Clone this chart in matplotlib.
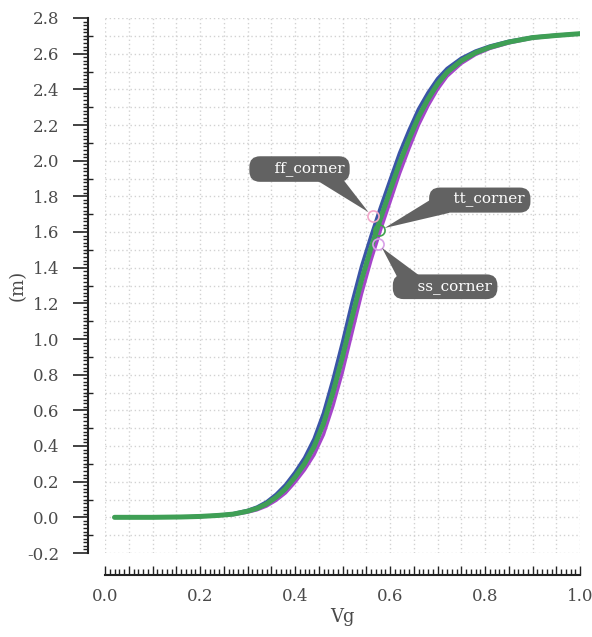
import numpy as np
import matplotlib
matplotlib.use("Agg")
import matplotlib.pyplot as plt
from matplotlib.ticker import MultipleLocator, FuncFormatter
from matplotlib.lines import TICKLEFT
from matplotlib.transforms import blended_transform_factory, ScaledTranslation

# ---------------- data ----------------
vg = [0.02, 0.10, 0.16, 0.20, 0.24, 0.27, 0.30, 0.32, 0.34, 0.36, 0.38, 0.40,
      0.42, 0.44, 0.46, 0.48, 0.50, 0.52, 0.54, 0.56, 0.58, 0.60, 0.62, 0.64,
      0.66, 0.68, 0.70, 0.72, 0.75, 0.78, 0.81, 0.85, 0.90, 0.95, 1.00]
ff_corner = [0.000, 0.000, 0.002, 0.006, 0.012, 0.021, 0.039, 0.058, 0.087, 0.129,
             0.183, 0.253, 0.334, 0.440, 0.586, 0.775, 0.984, 1.206, 1.408, 1.579,
             1.739, 1.892, 2.043, 2.172, 2.290, 2.382, 2.460, 2.517, 2.575, 2.615,
             2.643, 2.670, 2.693, 2.704, 2.713]
tt_corner = [0.000, 0.000, 0.002, 0.005, 0.011, 0.018, 0.034, 0.050, 0.075, 0.112,
             0.160, 0.225, 0.300, 0.395, 0.525, 0.700, 0.900, 1.120, 1.330, 1.510,
             1.675, 1.830, 1.985, 2.120, 2.245, 2.345, 2.430, 2.495, 2.560, 2.605,
             2.636, 2.665, 2.690, 2.702, 2.712]
ss_corner = [0.000, 0.000, 0.002, 0.004, 0.010, 0.015, 0.029, 0.042, 0.063, 0.095,
             0.137, 0.197, 0.266, 0.350, 0.464, 0.625, 0.816, 1.034, 1.252, 1.441,
             1.611, 1.768, 1.927, 2.068, 2.200, 2.308, 2.400, 2.473, 2.545, 2.595,
             2.629, 2.660, 2.687, 2.700, 2.711]

marker_names = ["ff_corner", "tt_corner", "ss_corner"]
marker_x = [0.5635, 0.5775, 0.5755]
marker_y = [1.69, 1.61, 1.535]
label_x = [0.4095, 0.789, 0.716]
label_y = [1.953, 1.779, 1.293]

x_ticklabels = [0.0, 0.2, 0.4, 0.6, 0.8, 1.0]
y_ticklabels = [-0.2, 0.0, 0.2, 0.4, 0.6, 0.8, 1.0, 1.2, 1.4, 1.6, 1.8, 2.0,
                2.2, 2.4, 2.6, 2.8]

# ---------------- style ----------------
plt.rcParams['font.family'] = ['DejaVu Serif']
TXT = "#4a4a4a"
AX = "#222222"
BOX = "#626262"

fig = plt.figure(figsize=(5.92, 6.37), dpi=100)
ax = fig.add_axes([105/592, 1 - 553/637, 475/592, (553 - 18)/637])

ax.set_xlim(0.0, 1.0)
ax.set_ylim(-0.2, 2.8)

# grid (dotted)
for gx in np.arange(0.0, 1.0001, 0.05):
    ax.axvline(gx, color="#d2d2d2", lw=1.0, ls=(0, (1, 2)), zorder=0)
for gy in np.arange(-0.2, 2.8001, 0.1):
    ax.axhline(gy, color="#d2d2d2", lw=1.0, ls=(0, (1, 2)), zorder=0)

# curves
ax.plot(vg, ff_corner, color="#3a55a6", lw=2.4, solid_capstyle="round", zorder=3)
ax.plot(vg, ss_corner, color="#a545c9", lw=2.4, solid_capstyle="round", zorder=3)
ax.plot(vg, tt_corner, color="#3f9f55", lw=3.6, solid_capstyle="round", zorder=4)

# corner markers
marker_colors = ["#f2a6c9", "#3fa34d", "#d8a0e8"]
for mx, my, mc in zip(marker_x, marker_y, marker_colors):
    ax.plot([mx], [my], marker="o", ms=8, mfc="none", mec=mc, mew=1.2, zorder=6)

# annotations (callout boxes with wedge pointers)
wedge_start = [(0.78, 0.25), (0.12, 0.3), (0.15, 0.75)]
for name, mx, my, lx, ly, rp in zip(marker_names, marker_x, marker_y,
                                    label_x, label_y, wedge_start):
    ax.annotate("    " + name, xy=(mx, my), xytext=(lx, ly),
                ha="center", va="center", color="white", fontsize=11,
                bbox=dict(boxstyle="round,pad=0.35,rounding_size=0.7",
                          fc=BOX, ec="none"),
                arrowprops=dict(arrowstyle="wedge,tail_width=1.4,shrink_factor=0.5",
                                fc=BOX, ec="none", relpos=rp, patchA=None,
                                shrinkA=0, shrinkB=4),
                zorder=8)

# spines
for s in ["top", "right"]:
    ax.spines[s].set_visible(False)
ax.spines["left"].set_position(("outward", 12))
ax.spines["bottom"].set_position(("outward", 16))
ax.spines["left"].set_linewidth(1.5)
ax.spines["bottom"].set_linewidth(1.5)
ax.spines["left"].set_color(AX)
ax.spines["bottom"].set_color(AX)
ax.spines["left"].set_bounds(-0.2, 2.8)
ax.spines["bottom"].set_bounds(0.0, 1.0)

# x ticks: medium 0.05, small 0.01, labels every 0.2
ax.xaxis.set_major_locator(MultipleLocator(0.05))
ax.xaxis.set_minor_locator(MultipleLocator(0.01))
ax.xaxis.set_major_formatter(FuncFormatter(
    lambda v, p: (f"{v:.1f}" if any(abs(v - t) < 1e-6 for t in x_ticklabels) else "")))
ax.tick_params(axis="x", which="major", direction="in", length=6.5, width=1.0,
               color=AX, labelcolor=TXT, labelsize=12, pad=9)
ax.tick_params(axis="x", which="minor", direction="in", length=4.0, width=1.0, color=AX)

# y ticks: long 0.2 with labels, small 0.02, medium 0.1 drawn as tick markers
ax.yaxis.set_major_locator(MultipleLocator(0.2))
ax.yaxis.set_minor_locator(MultipleLocator(0.02))
ax.yaxis.set_major_formatter(FuncFormatter(lambda v, p: f"{v:.1f}"))
ax.tick_params(axis="y", which="major", direction="out", length=11, width=1.2,
               color=AX, labelcolor=TXT, labelsize=12, pad=10)
ax.tick_params(axis="y", which="minor", direction="out", length=3.6, width=1.0, color=AX)
mid = np.arange(-0.1, 2.75, 0.2)
tr = blended_transform_factory(ax.transAxes, ax.transData) + \
    ScaledTranslation(-12 / 100, 0, fig.dpi_scale_trans)
ax.plot(np.zeros(len(mid)), mid, ls="none", marker=TICKLEFT, ms=6, mew=1.0,
        color=AX, transform=tr, clip_on=False)

ax.set_xlabel("Vg", fontsize=13, color=TXT, labelpad=2)
ax.set_ylabel("(m)", fontsize=13, color=TXT, labelpad=0)

fig.savefig("out.png", dpi=100)
